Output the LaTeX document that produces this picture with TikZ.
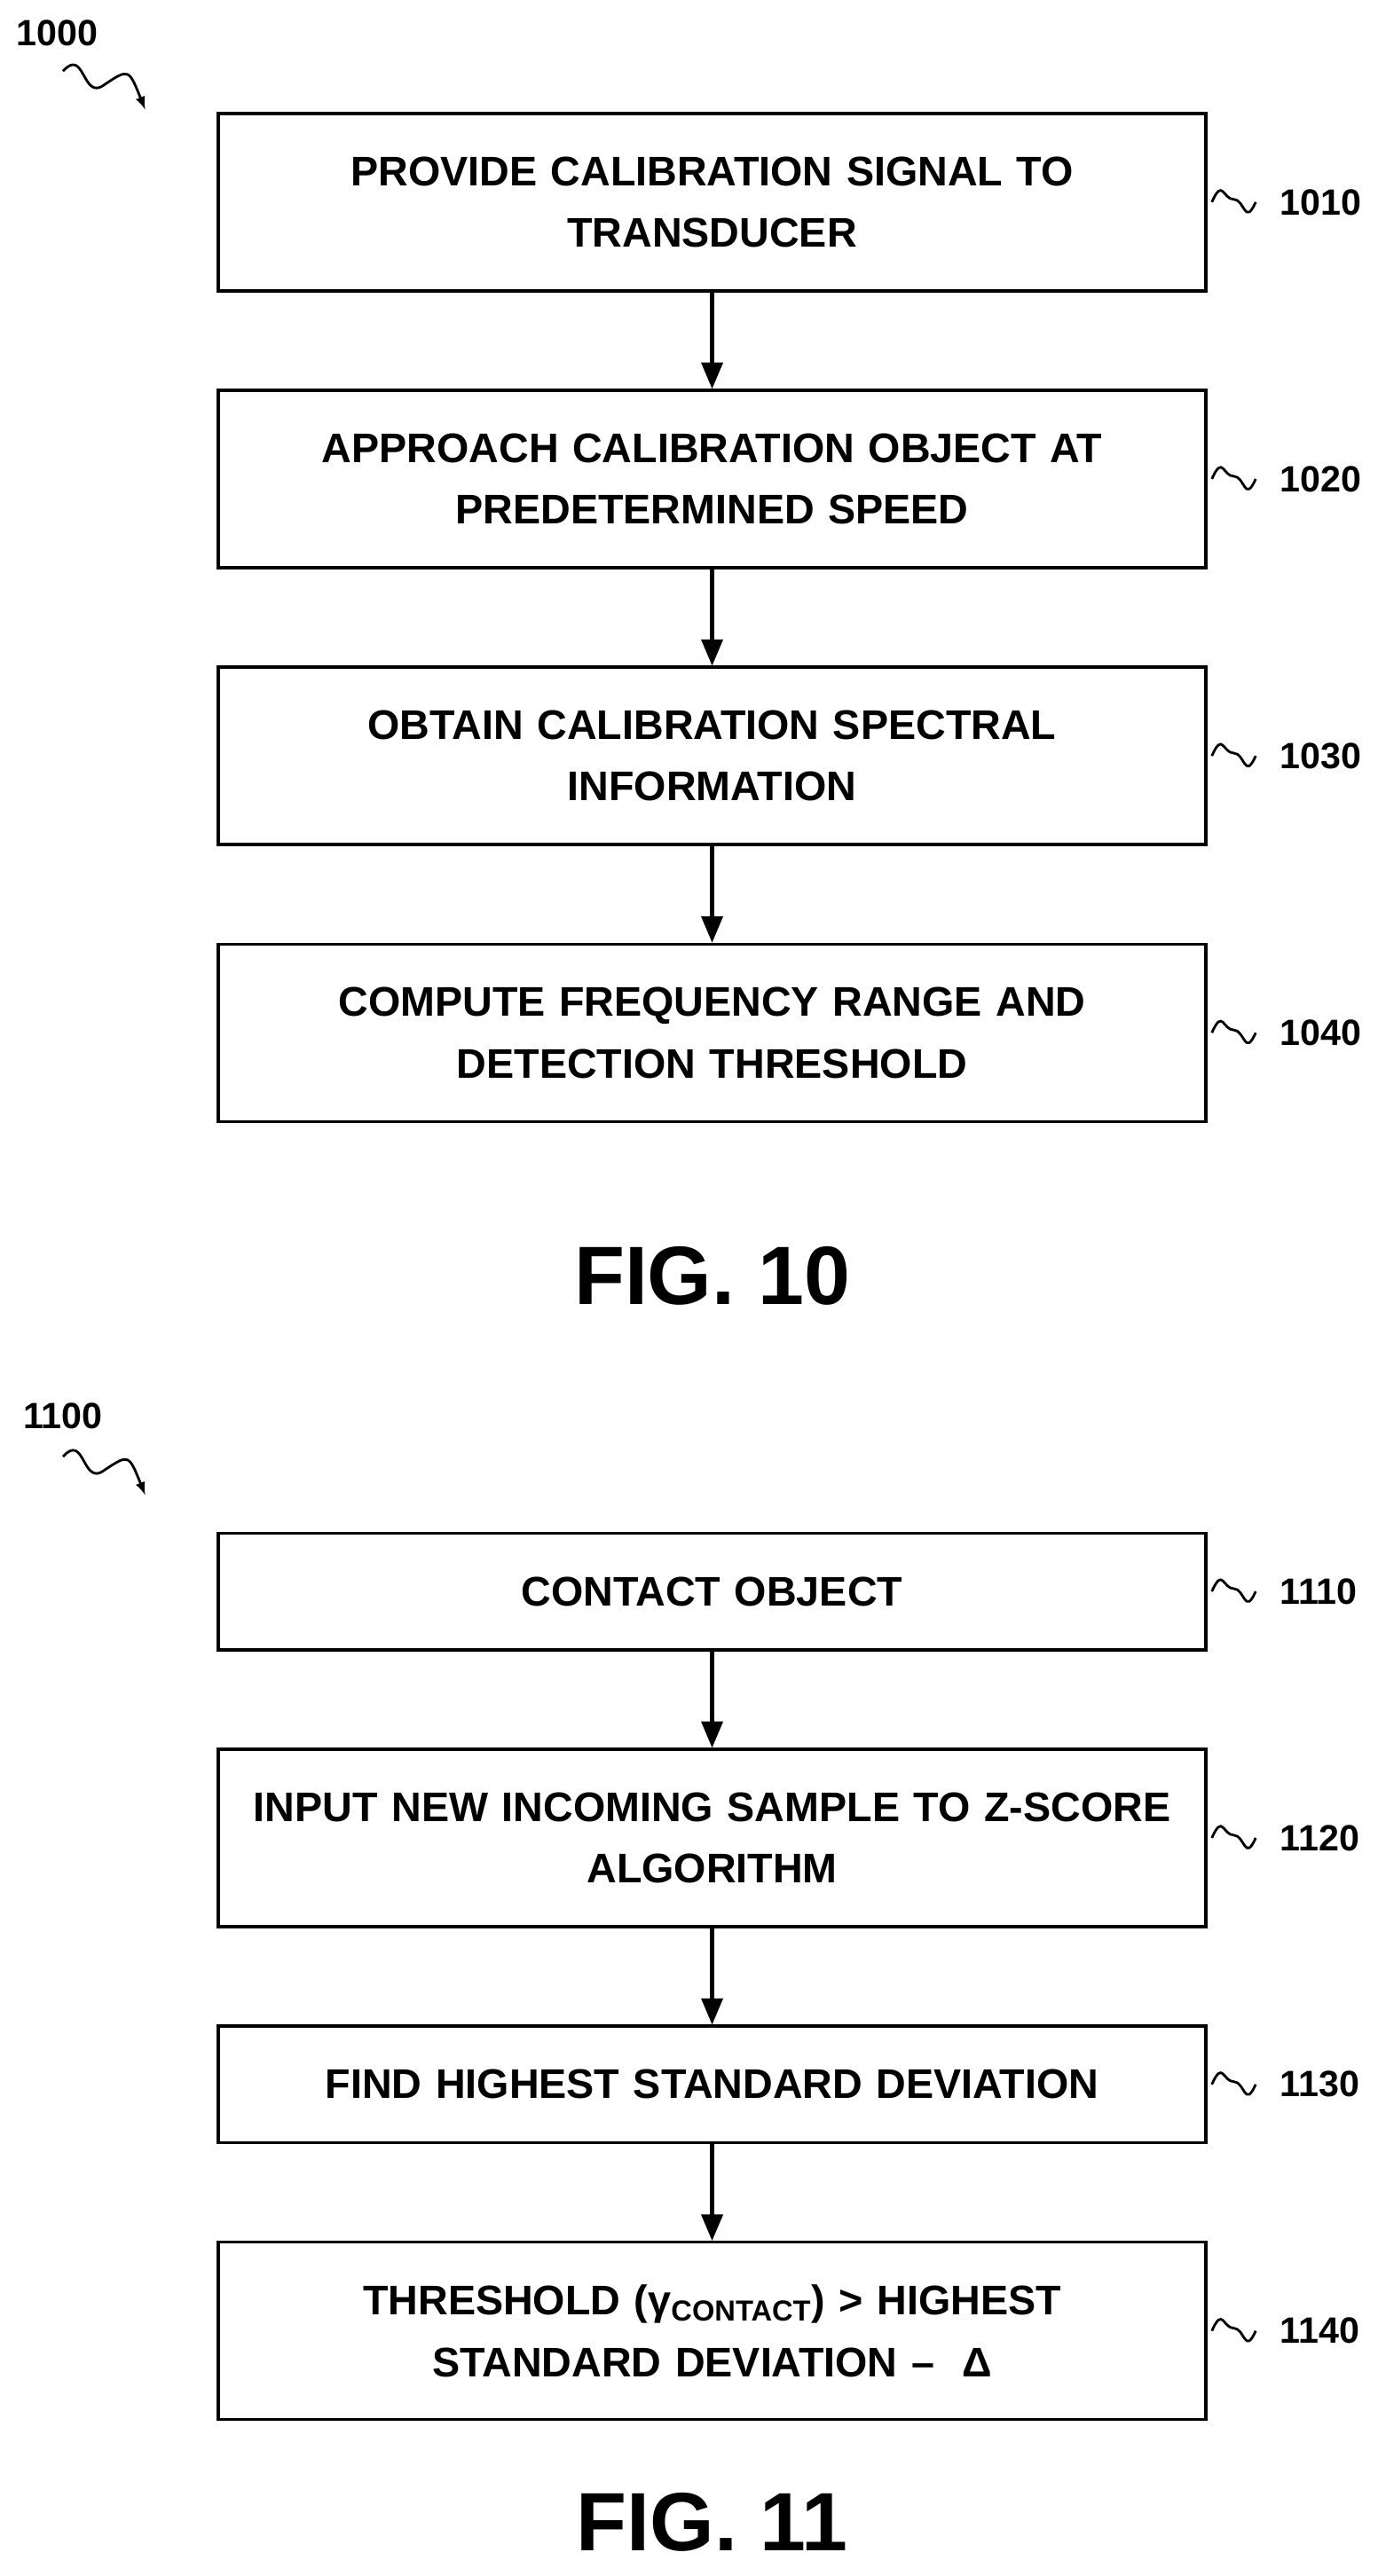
\documentclass[tikz,border=0pt]{standalone}
\usepackage{fontspec}
\setmainfont{Liberation Sans}
\usetikzlibrary{arrows, positioning}
\tikzstyle{process} = [rectangle, minimum width=18.03cm, minimum height=3.24cm, text width=17cm, align=center, draw=black, line width=1.6pt, font=\bfseries\fontsize{21.5}{32}\selectfont]
\tikzstyle{short} = [process, minimum height=2.13cm]
\tikzstyle{flow} = [line width=2.2pt,-{triangle 45}]
\tikzstyle{ref} = [anchor=west, font=\bfseries\fontsize{19}{22}\selectfont]
\tikzstyle{fig} = [font=\bfseries\fontsize{43}{47}\selectfont]
\newcommand{\squig}[1]{\draw[line width=1.3pt] (#1.east) ++(0.08,0) .. controls +(0.2,0.45) and +(-0.2,0) .. ++(0.4,0.05) .. controls +(0.2,0) and +(-0.2,-0.45) .. ++(0.4,-0.05)}
\begin{document}
\begin{tikzpicture}[node distance=1.76cm]
    \useasboundingbox (0,0) rectangle (25.14,-47.04);
    % Fig. 10
    \node (tag1000) [ref, anchor=center] at (1.05,-0.6) {1000};
    \coordinate (a1000) at (1.15,-1.3);
    \coordinate (b1000) at (2.65,-2.0);
    \draw[line width=1.3pt, -latex] (a1000) .. controls +(0.4,0.45) and +(-0.4,-0.3) .. ++(0.75,-0.25) .. controls +(0.45,0.3) .. (b1000);
    \node (s1010) [process] at (13.0,-3.69) {PROVIDE CALIBRATION SIGNAL TO\\TRANSDUCER};
    \node (s1020) [process, below=of s1010] {APPROACH CALIBRATION OBJECT AT\\PREDETERMINED SPEED};
    \node (s1030) [process, below=of s1020] {OBTAIN CALIBRATION SPECTRAL\\INFORMATION};
    \node (s1040) [process, below=of s1030] {COMPUTE FREQUENCY RANGE AND\\DETECTION THRESHOLD};
    \node (fig10) [fig] at (13.0,-23.3) {FIG. 10};
    \foreach \s/\t in {s1010/1010, s1020/1020, s1030/1030, s1040/1040} {
        \squig{\s};
        \node [ref] at ([xshift=1.2cm]\s.east) {\t};
    }
    \draw [flow] (s1010) -- (s1020);
    \draw [flow] (s1020) -- (s1030);
    \draw [flow] (s1030) -- (s1040);
    % Fig. 11
    \node (tag1100) [ref, anchor=center] at (1.15,-25.85) {1100};
    \coordinate (a1100) at (1.15,-26.6);
    \coordinate (b1100) at (2.65,-27.3);
    \draw[line width=1.3pt, -latex] (a1100) .. controls +(0.4,0.45) and +(-0.4,-0.3) .. ++(0.75,-0.25) .. controls +(0.45,0.3) .. (b1100);
    \node (s1110) [short] at (13.0,-29.06) {CONTACT OBJECT};
    \node (s1120) [process, below=of s1110] {INPUT NEW INCOMING SAMPLE TO Z-SCORE\\ALGORITHM};
    \node (s1130) [short, below=of s1120] {FIND HIGHEST STANDARD DEVIATION};
    \node (s1140) [process, below=of s1130] {THRESHOLD (γ\textsubscript{CONTACT}) > HIGHEST\\STANDARD DEVIATION --\ \ Δ};
    \node (fig11) [fig] at (13.0,-46.05) {FIG. 11};
    \foreach \s/\t in {s1110/1110, s1120/1120, s1130/1130, s1140/1140} {
        \squig{\s};
        \node [ref] at ([xshift=1.2cm]\s.east) {\t};
    }
    \draw [flow] (s1110) -- (s1120);
    \draw [flow] (s1120) -- (s1130);
    \draw [flow] (s1130) -- (s1140);
\end{tikzpicture}
\end{document}
